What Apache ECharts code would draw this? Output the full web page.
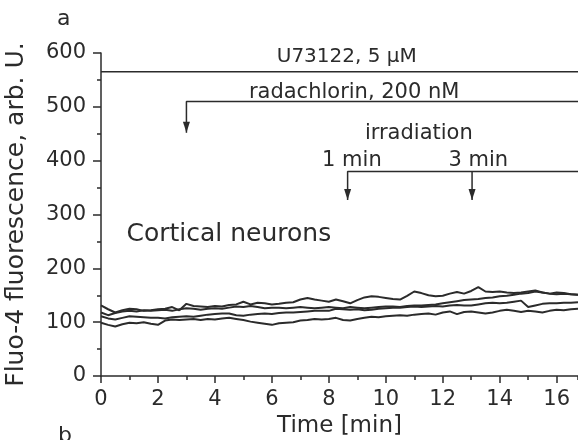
<!DOCTYPE html>
<html><head><meta charset="utf-8">
<script src="https://cdn.jsdelivr.net/npm/echarts@6/dist/echarts.min.js"></script>
<style>html,body{margin:0;padding:0;background:#fff}#c{width:578px;height:440px}</style>
</head><body><div id="c"></div>
<script>
const timeMin = [0,0.25,0.5,0.75,1,1.25,1.5,1.75,2,2.25,2.5,2.75,3,3.25,3.5,3.75,4,4.25,4.5,4.75,5,5.25,5.5,5.75,6,6.25,6.5,6.75,7,7.25,7.5,7.75,8,8.25,8.5,8.75,9,9.25,9.5,9.75,10,10.25,10.5,10.75,11,11.25,11.5,11.75,12,12.25,12.5,12.75,13,13.25,13.5,13.75,14,14.25,14.5,14.75,15,15.25,15.5,15.75,16,16.25,16.5,16.75];
const traceA = [131,124,118,122,125,124,121,122,124,125,128,122,134,130,129,128,130,129,132,133,138,133,136,135,133,134,136,137,142,145,142,140,138,142,139,135,141,146,148,147,145,143,142,149,157,154,150,148,149,153,156,153,158,165,157,156,157,155,154,155,157,159,155,153,155,154,152,151];
const traceB = [118,113,117,120,121,120,122,121,122,123,121,124,126,125,123,125,126,125,127,129,128,130,128,126,127,127,126,127,128,127,126,127,128,127,126,128,127,126,127,128,129,129,128,130,131,131,132,133,135,137,139,141,142,143,145,146,148,149,151,153,154,157,155,153,152,153,152,151];
const traceC = [111,107,105,108,111,110,109,108,108,107,109,110,111,110,112,114,115,116,116,113,112,114,115,116,115,117,118,118,119,120,121,121,121,125,124,123,124,122,123,125,126,127,127,128,129,128,129,130,129,131,132,131,131,133,135,136,135,136,138,140,128,131,134,135,135,136,136,137];
const traceD = [99,95,92,96,99,98,100,97,95,103,105,104,105,106,104,106,105,107,108,106,104,101,99,97,95,98,99,100,103,104,106,105,106,108,104,103,106,108,110,109,111,112,113,112,114,115,116,114,118,120,115,119,120,118,116,118,121,123,121,119,121,120,118,121,123,122,124,125];

const xTickLabels = ['0','2','4','6','8','10','12','14','16'];
const yTickLabels = ['0','100','200','300','400','500','600'];

// annotation brackets (time, value)
const u73122Line = [[0,565],[16.75,565]];
const radachlorinLine = [[3,452],[3,510],[16.75,510]];
const irradiationLine = [[8.66,327],[8.66,380],[16.75,380]];
const irradiation3Line = [[13.03,380],[13.03,327]];
const arrowTips = [[3,452],[8.66,327],[13.03,327]];

const annotationTexts = ['U73122, 5 \u03bcM','radachlorin, 200 nM','irradiation','1 min','3 min','Cortical neurons'];
const annotationX = [8.63, 8.89, 11.16, 8.81, 13.25, 4.49];
const annotationY = [593, 526, 450, 400, 400, 262];
const annotationSize = [20, 21, 21, 21, 21, 25];

const FONT = 'DejaVu Sans';
const INK = '#2b2b2b';

const chart = echarts.init(document.getElementById('c'), null, {renderer:'canvas'});

function pairs(xs, ys){ return xs.map((x,i)=>[x, ys[i]]); }

const traceSeries = [traceA, traceB, traceC, traceD].map(t => ({
  type:'line', data: pairs(timeMin, t), showSymbol:false, symbol:'none',
  lineStyle:{color:'#2b2b2b', width:2}, silent:true, z:3
}));
const bracket = d => ({type:'line', data:d, showSymbol:false, symbol:'none', lineStyle:{color:INK, width:1.5}, silent:true, z:4, clip:false});

chart.setOption({
  animation:false,
  backgroundColor:'#fff',
  grid:{left:101, right:0, top:53, bottom:64, containLabel:false, outerBoundsMode:'none'},
  xAxis:[{
    type:'value', min:0, max:16.75, interval:2,
    axisLine:{show:true, lineStyle:{color:INK, width:1.5}},
    axisTick:{show:true, length:7, lineStyle:{color:INK, width:1.5}},
    splitLine:{show:false},
    axisLabel:{margin:13, fontSize:21, fontFamily:FONT, color:INK, showMaxLabel:false,
      formatter: v => { const s = String(v); return xTickLabels.includes(s) ? s : ''; }},
    name:'Time [min]', nameLocation:'middle', nameGap:30,
    nameTextStyle:{fontSize:23, fontFamily:FONT, color:INK}
  },{
    type:'value', min:0, max:16.75, interval:1, position:'bottom',
    axisLine:{show:false}, axisLabel:{show:false}, splitLine:{show:false},
    axisTick:{show:true, length:4, lineStyle:{color:INK, width:1.5}}
  }],
  yAxis:{
    type:'value', min:0, max:600, interval:100,
    axisLine:{show:true, lineStyle:{color:INK, width:1.5}},
    axisTick:{show:true, length:8, lineStyle:{color:INK, width:1.5}},
    minorTick:{show:true, splitNumber:2, length:4, lineStyle:{color:INK, width:1.5}},
    splitLine:{show:false}, minorSplitLine:{show:false},
    axisLabel:{margin:15, fontSize:21, fontFamily:FONT, color:INK,
      formatter: v => { const s = String(v); return yTickLabels.includes(s) ? s : ''; }},
    name:'Fluo-4 fluorescence, arb. U.', nameLocation:'middle', nameGap:72,
    nameTextStyle:{fontSize:25, fontFamily:FONT, color:INK}
  },
  series:[
    ...traceSeries,
    bracket(u73122Line), bracket(radachlorinLine), bracket(irradiationLine), bracket(irradiation3Line),
    {type:'scatter', data:arrowTips, symbol:'triangle', symbolRotate:180, symbolSize:[7,11], symbolOffset:[0,-5.5],
     itemStyle:{color:INK, opacity:1}, silent:true, z:5, clip:false},
    {type:'scatter', silent:true, z:6, clip:false, symbolSize:1, itemStyle:{color:'rgba(0,0,0,0)', opacity:1},
     data: annotationTexts.map((t,i)=>({value:[annotationX[i], annotationY[i]], name:t,
        label:{show:true, position:'inside', formatter:t, fontSize:annotationSize[i], fontFamily:FONT, color:INK, opacity:1}}))}
  ],
  graphic:[
    {type:'text', left:57, top:8, style:{text:'a', fontSize:22, fontFamily:FONT, fill:INK}},
    {type:'text', left:58, top:425, style:{text:'b', fontSize:22, fontFamily:FONT, fill:INK}}
  ]
});
</script></body></html>
